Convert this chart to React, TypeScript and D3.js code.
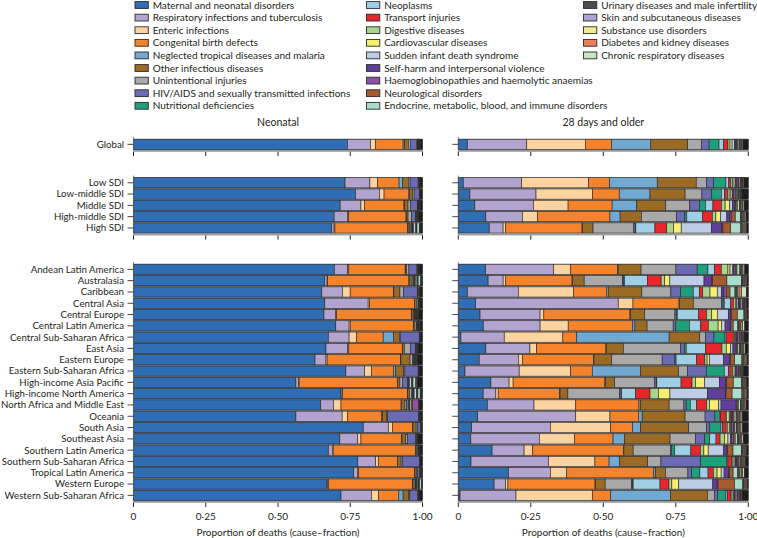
import React from 'react';
import * as d3 from 'd3';

const causes = [
  'Maternal and neonatal disorders',
  'Respiratory infections and tuberculosis',
  'Enteric infections',
  'Congenital birth defects',
  'Neglected tropical diseases and malaria',
  'Other infectious diseases',
  'Unintentional injuries',
  'HIV/AIDS and sexually transmitted infections',
  'Nutritional deficiencies',
  'Neoplasms',
  'Transport injuries',
  'Digestive diseases',
  'Cardiovascular diseases',
  'Sudden infant death syndrome',
  'Self-harm and interpersonal violence',
  'Haemoglobinopathies and haemolytic anaemias',
  'Neurological disorders',
  'Endocrine, metabolic, blood, and immune disorders',
  'Urinary diseases and male infertility',
  'Skin and subcutaneous diseases',
  'Substance use disorders',
  'Diabetes and kidney diseases',
  'Chronic respiratory diseases',
  'Other non-communicable diseases',
];

const causeColors = [
  '#2f6db5', '#b2a3cf', '#fdd3a0', '#f5832b', '#70a9d1', '#9b6a24', '#a9a9a9', '#6b6bb4',
  '#1fa07c', '#9fcfe4', '#e8262b', '#a7d48e', '#f8ef72', '#bdcde6', '#5f3f9b', '#8f52a4',
  '#a65a2e', '#a9dcc9', '#4e4e4e', '#aaa6d3', '#f1ee90', '#f07f5c', '#c7e6c1', '#1c1c1c',
];

const legendCount = 23;

const globalLabels = ['Global'];
const sdiLabels = ['Low SDI', 'Low-middle SDI', 'Middle SDI', 'High-middle SDI', 'High SDI'];
const regionLabels = [
  'Andean Latin America', 'Australasia', 'Caribbean', 'Central Asia', 'Central Europe',
  'Central Latin America', 'Central Sub-Saharan Africa', 'East Asia', 'Eastern Europe',
  'Eastern Sub-Saharan Africa', 'High-income Asia Pacific', 'High-income North America',
  'North Africa and Middle East', 'Oceania', 'South Asia', 'Southeast Asia',
  'Southern Latin America', 'Southern Sub-Saharan Africa', 'Tropical Latin America',
  'Western Europe', 'Western Sub-Saharan Africa',
];

// Neonatal cause fractions (order of `causes`)
const neonatalGlobal = [
  [.741,.080,.018,.095,.005,.013,.007,.023,.002,.001,.001,.001,.001,0,0,.001,.001,.001,.002,0,0,0,0,.008],
];
const neonatalSdi = [
  [.732,.086,.026,.075,.012,.020,.006,.028,.002,.001,.001,.001,0,0,0,.001,0,0,.002,0,0,0,0,.007],
  [.768,.083,.016,.086,.002,.011,.005,.018,.001,.001,.001,.001,0,0,0,.001,0,0,.001,0,0,0,0,.005],
  [.715,.072,.012,.137,.002,.012,.009,.023,.001,.001,.001,.001,.001,0,0,.001,.001,.001,.002,0,0,0,0,.008],
  [.695,.046,.004,.199,.001,.006,.012,.014,.001,.001,.001,.001,.001,.001,0,.001,.001,.002,.002,0,0,0,0,.012],
  [.686,.008,.003,.252,.001,.005,.005,.003,.001,.002,.001,.001,.001,.008,.001,.001,.002,.008,.003,0,0,0,.001,.007],
];
const neonatalRegions = [
  [.695,.046,.004,.195,.001,.004,.008,.028,.001,.001,.001,.001,0,0,0,.001,0,.001,.002,0,0,0,0,.011],
  [.662,.008,.002,.281,.001,.007,.006,.002,.001,.002,.001,.001,.001,.006,.001,.001,.002,.008,.004,0,0,0,.001,.002],
  [.651,.071,.027,.150,.001,.021,.013,.047,.001,.001,.001,.001,.002,0,0,.001,.001,0,.002,0,0,0,0,.008],
  [.662,.150,.004,.156,.001,.008,.004,.002,.001,.001,.001,.001,0,0,0,.001,0,0,.002,0,0,0,0,.006],
  [.659,.040,.004,.259,.001,.006,.003,.001,.001,.001,.001,.001,.001,.001,0,.001,.001,.002,.004,0,0,0,0,.013],
  [.700,.046,.004,.218,.001,.005,.005,.002,.001,.001,.001,.001,.001,0,0,.001,.001,.001,.003,0,0,0,0,.008],
  [.674,.072,.026,.092,.035,.021,.003,.066,.001,0,.001,0,0,0,0,.001,0,0,.001,0,0,0,0,.007],
  [.666,.075,.004,.185,.001,.006,.021,.018,.001,.001,.001,.001,.001,0,0,.001,.001,.001,.003,0,0,0,0,.013],
  [.628,.038,.004,.254,.001,.032,.008,.004,.001,.001,.001,.001,.001,.001,0,.001,.001,.002,.004,0,0,0,0,.017],
  [.734,.065,.023,.077,.007,.028,.004,.046,.001,0,.001,0,0,0,0,.001,0,0,.002,0,0,0,0,.010],
  [.562,.009,.002,.340,.001,.008,.009,.018,.001,.002,.001,.001,.001,.008,.001,.001,.002,.010,.005,0,0,0,.001,.017],
  [.720,.004,.002,.225,.001,.006,.008,.003,.001,.001,.001,.001,.001,.008,.003,.001,.001,.008,.003,0,0,0,.001,.004],
  [.648,.044,.026,.208,.001,.012,.006,.008,.001,.001,.001,.001,.006,.001,.001,.022,.001,.001,.002,0,0,0,0,.009],
  [.562,.160,.018,.119,.002,.015,.003,.108,.001,0,.001,0,0,0,0,.001,0,0,.002,0,0,0,0,.008],
  [.795,.087,.014,.069,.002,.011,.004,.012,.001,0,.001,0,0,0,0,.001,0,0,.001,0,0,0,0,.002],
  [.714,.062,.011,.141,.001,.013,.006,.029,.001,.001,.001,.001,0,0,0,.001,.001,0,.002,0,0,0,0,.015],
  [.674,.014,.003,.284,.001,.003,.005,.001,.001,.001,.001,0,0,.001,0,.001,.001,.001,.002,0,0,0,0,.006],
  [.776,.062,.009,.066,.001,.012,.004,.059,.001,0,.001,0,0,0,0,.001,0,0,.001,0,0,0,0,.007],
  [.763,.013,.003,.195,.001,.005,.004,.007,.001,.001,.001,0,.001,.001,0,.001,0,.001,.002,0,0,0,0,.001],
  [.671,.004,.003,.292,.001,.005,.005,.001,.001,.001,.001,.001,.001,.004,.001,.001,.002,.006,.002,0,0,0,.001,.001],
  [.718,.105,.025,.070,.015,.020,.003,.028,.001,0,.001,0,0,0,0,.001,0,0,.002,0,0,0,0,.011],
];

// 28 days and older cause fractions
const olderGlobal = [
  [.031,.205,.202,.091,.135,.127,.048,.026,.034,.015,.016,.007,.007,.008,.004,.004,.003,.005,.004,.003,.002,.002,.003,.018],
];
const olderSdi = [
  [.017,.201,.230,.072,.164,.134,.035,.024,.043,.010,.007,.006,.005,.005,.003,.006,.003,.004,.004,.002,.002,.002,.003,.015],
  [.040,.228,.195,.092,.106,.121,.058,.034,.033,.011,.010,.006,.006,.006,.003,.006,.004,.005,.004,.002,.002,.002,.003,.023],
  [.057,.202,.120,.152,.085,.100,.083,.034,.020,.026,.029,.013,.016,.010,.007,.004,.005,.007,.004,.003,.003,.003,.004,.014],
  [.095,.126,.052,.250,.035,.073,.121,.029,.007,.055,.033,.012,.016,.022,.010,.005,.014,.018,.005,.003,.003,.004,.004,.008],
  [.107,.048,.009,.264,.002,.036,.141,.005,.002,.066,.041,.023,.027,.104,.037,.003,.027,.035,.006,.003,.003,.004,.004,.006],
];
const olderRegions = [
  [.094,.234,.059,.161,.002,.079,.120,.073,.037,.023,.023,.023,.007,.010,.003,.005,.006,.010,.003,.003,.002,.003,.006,.012],
  [.103,.052,.009,.229,.002,.040,.133,.004,.002,.080,.047,.012,.018,.118,.027,.002,.050,.050,.005,.003,.003,.004,.004,.005],
  [.031,.176,.190,.114,.006,.116,.100,.034,.043,.021,.012,.025,.025,.015,.008,.009,.012,.017,.006,.003,.005,.009,.017,.006],
  [.060,.492,.051,.159,.002,.047,.097,.006,.004,.022,.010,.008,.003,.005,.003,.003,.004,.005,.004,.002,.002,.003,.003,.006],
  [.075,.207,.013,.297,.002,.049,.104,.005,.003,.074,.027,.018,.019,.038,.008,.003,.020,.023,.004,.002,.002,.003,.002,.002],
  [.086,.196,.097,.222,.008,.042,.090,.009,.047,.039,.026,.034,.011,.013,.017,.003,.008,.016,.004,.003,.003,.006,.008,.012],
  [.009,.150,.203,.048,.320,.106,.020,.029,.038,.004,.025,.005,.003,.003,.004,.006,.004,.003,.004,.002,.002,.002,.002,.012],
  [.095,.152,.023,.239,.002,.058,.198,.013,.006,.066,.057,.015,.015,.008,.008,.004,.005,.005,.006,.002,.003,.004,.005,.011],
  [.072,.135,.014,.245,.002,.061,.174,.044,.004,.071,.028,.008,.008,.049,.020,.003,.015,.025,.005,.003,.003,.004,.003,.004],
  [.023,.187,.177,.075,.166,.131,.031,.065,.062,.015,.009,.005,.005,.005,.003,.006,.003,.003,.004,.002,.002,.002,.002,.017],
  [.113,.063,.014,.318,.002,.032,.138,.006,.002,.084,.038,.012,.032,.051,.022,.003,.023,.029,.004,.003,.003,.004,.003,.006],
  [.086,.044,.008,.212,.002,.027,.178,.006,.002,.048,.050,.029,.040,.130,.062,.002,.021,.034,.005,.003,.003,.004,.003,.004],
  [.100,.161,.144,.218,.006,.098,.051,.008,.014,.022,.034,.010,.032,.008,.052,.003,.005,.007,.005,.003,.003,.004,.004,.008],
  [.067,.338,.118,.098,.013,.148,.069,.034,.015,.004,.017,.005,.008,.003,.005,.004,.005,.007,.005,.003,.004,.005,.004,.021],
  [.046,.270,.207,.075,.028,.165,.062,.009,.040,.006,.012,.006,.005,.005,.003,.007,.004,.005,.005,.004,.003,.004,.005,.020],
  [.043,.236,.120,.133,.039,.157,.088,.031,.017,.022,.014,.016,.011,.009,.004,.006,.006,.008,.005,.003,.003,.004,.005,.017],
  [.117,.111,.030,.314,.002,.032,.130,.004,.010,.056,.033,.012,.015,.053,.010,.003,.020,.029,.005,.003,.003,.004,.003,.006],
  [.044,.269,.161,.049,.037,.097,.046,.138,.090,.004,.014,.004,.004,.004,.005,.004,.004,.004,.005,.003,.003,.004,.003,.010],
  [.172,.144,.055,.299,.006,.034,.077,.013,.028,.028,.018,.013,.014,.010,.016,.003,.012,.016,.005,.003,.004,.005,.006,.013],
  [.124,.040,.008,.302,.002,.033,.091,.004,.002,.093,.031,.010,.024,.118,.015,.003,.057,.029,.004,.003,.002,.004,.003,.003],
  [.006,.193,.263,.063,.207,.127,.024,.011,.029,.005,.012,.004,.004,.003,.003,.009,.003,.003,.004,.002,.002,.002,.002,.019],
];

const xTicks = [0, 0.25, 0.5, 0.75, 1];
const xTickLabels = ['0', '0·25', '0·50', '0·75', '1·00'];
const panelTitles = ['Neonatal', '28 days and older'];
const axisTitle = 'Proportion of deaths (cause–fraction)';

const W = 757;
const H = 538;
const STEP = 11.3;
const FONT = 'Lato, "Liberation Sans", Arial, sans-serif';
const TEXT = '#231f20';

const groups = [
  { labels: globalLabels, neo: neonatalGlobal, old: olderGlobal, top: 138.7, tickLabels: false },
  { labels: sdiLabels, neo: neonatalSdi, old: olderSdi, top: 177.1, tickLabels: false },
  { labels: regionLabels, neo: neonatalRegions, old: olderRegions, top: 263.7, tickLabels: true },
];

const xLeft = d3.scaleLinear().domain([0, 1]).range([133.5, 422.5]);
const xRight = d3.scaleLinear().domain([0, 1]).range([458.3, 748.3]);

const stack = d3
  .stack<number[], number>()
  .keys(d3.range(causes.length))
  .value((row, k) => row[k])
  .offset(d3.stackOffsetExpand);

function Panel({ x, field, showLabels, title }: { x: d3.ScaleLinear<number, number>; field: 'neo' | 'old'; showLabels: boolean; title: string }) {
  const x0 = x(0);
  const x1 = x(1);
  return (
    <g>
      <text x={(x0 + x1) / 2} y={126.3} textAnchor="middle" fontSize={10.5} fill={TEXT} fontFamily={FONT}>
        {title}
      </text>
      {groups.map((g, gi) => {
        const rows = g[field];
        const bottom = g.top + STEP * g.labels.length;
        const y = d3.scaleBand<string>().domain(g.labels).range([g.top, bottom]).paddingInner(0.1).paddingOuter(0.05);
        const series = stack(rows);
        return (
          <g key={gi}>
            <rect x={x0} y={g.top} width={x1 - x0} height={bottom - g.top} fill="#8e8e8e" />
            {series.map((s, k) =>
              s.map((d, i) => {
                const w = x(d[1]) - x(d[0]);
                if (!(w > 0)) return null;
                return (
                  <rect
                    key={k + '-' + i}
                    x={x(d[0])}
                    y={y(g.labels[i])}
                    width={w}
                    height={y.bandwidth()}
                    fill={causeColors[k]}
                    stroke="#2a2a2a"
                    strokeWidth={0.6}
                  />
                );
              })
            )}
            <line x1={x0} x2={x0} y1={g.top - 1.5} y2={bottom} stroke="#555" strokeWidth={0.8} />
            <rect x={x0 - 0.5} y={bottom} width={x1 - x0 + 1} height={1.8} fill="#9c9c9c" />
            {xTicks.map((t, ti) => (
              <g key={ti}>
                <line x1={x(t)} x2={x(t)} y1={bottom + 1.8} y2={bottom + 6} stroke="#222" strokeWidth={1} />
                {g.tickLabels && (
                  <text x={x(t)} y={bottom + 19.3} textAnchor="middle" fontSize={10} fill={TEXT} fontFamily={FONT}>
                    {xTickLabels[ti]}
                  </text>
                )}
              </g>
            ))}
            {g.tickLabels && (
              <text x={(x0 + x1) / 2} y={bottom + 35} textAnchor="middle" fontSize={10} fill={TEXT} fontFamily={FONT}>
                {axisTitle}
              </text>
            )}
            {g.labels.map((lab) => {
              const cy = (y(lab) as number) + y.bandwidth() / 2;
              return (
                <g key={lab}>
                  <line x1={x0 - 6} x2={x0} y1={cy} y2={cy} stroke="#333" strokeWidth={0.9} />
                  {showLabels && (
                    <text x={x0 - 9.5} y={cy + 3.4} textAnchor="end" fontSize={9.7} fill={TEXT} fontFamily={FONT}>
                      {lab}
                    </text>
                  )}
                </g>
              );
            })}
          </g>
        );
      })}
    </g>
  );
}

const legendCols = [135, 366.5, 583.5];
const legendRows = 9;

function Legend() {
  return (
    <g>
      {causes.slice(0, legendCount).map((c, i) => {
        const col = Math.floor(i / legendRows);
        const row = i % legendRows;
        const lx = legendCols[col];
        const cy = 5 + row * 12.6;
        return (
          <g key={c}>
            <rect x={lx} y={cy - 3.4} width={13.3} height={6.8} fill={causeColors[i]} stroke="#2a2a2a" strokeWidth={0.9} />
            <text x={lx + 17.7} y={cy + 3.5} fontSize={10} fill={TEXT} fontFamily={FONT}>
              {c}
            </text>
          </g>
        );
      })}
    </g>
  );
}

export default function App() {
  return (
    <svg width={W} height={H} viewBox={`0 0 ${W} ${H}`} style={{ position: 'absolute', left: 0, top: 0, background: '#fff' }}>
      <Legend />
      <Panel x={xLeft} field="neo" showLabels={true} title={panelTitles[0]} />
      <Panel x={xRight} field="old" showLabels={false} title={panelTitles[1]} />
    </svg>
  );
}
